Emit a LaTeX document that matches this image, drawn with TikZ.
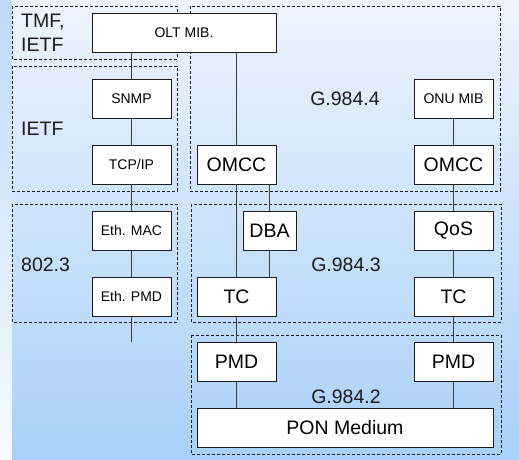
\documentclass[tikz,border=0pt]{standalone}
\usepackage{fontspec}
\setmainfont{Liberation Sans}
\usetikzlibrary{positioning,backgrounds}
\definecolor{gpInk}{HTML}{1C1C1C}
\definecolor{gpWire}{HTML}{3C3C3C}
\definecolor{gpTop}{HTML}{EEF4FD}
\definecolor{gpBot}{HTML}{A8D0F8}
\definecolor{gpEdgeTop}{HTML}{BCDAF7}
\definecolor{gpEdgeBot}{HTML}{F8FBFF}
\tikzset{
  layer/.style   ={draw=gpInk,line width=0.8pt,fill=white,inner sep=1pt,
                   minimum width=79pt,minimum height=39pt,
                   font=\fontsize{19.5}{24}\selectfont},
  mgmt/.style    ={layer,font=\fontsize{14}{17}\selectfont},
  grp/.style     ={draw=gpInk,line width=0.8pt,dash pattern=on 3pt off 2pt},
  wire/.style    ={gpWire,line width=0.9pt},
  stdlbl/.style  ={font=\fontsize{19.5}{24}\selectfont,text=gpInk,inner sep=0pt},
}
\begin{document}
\begin{tikzpicture}[x=1pt,y=-1pt]
\useasboundingbox (0,0) rectangle (519,460);
% background
\shade[top color=gpEdgeTop,bottom color=gpEdgeBot] (0,0) rectangle (12,460);
\shade[top color=gpTop,bottom color=gpBot] (12,0) rectangle (519,460);

% standard groups
\draw[grp] (12,6) rectangle (177,59);
\draw[grp] (12,66) rectangle (177,191);
\draw[grp] (12,204) rectangle (177,322);
\draw[grp] (190,6) rectangle (500,191);
\draw[grp] (191,204) rectangle (501,322);
\draw[grp] (191,335) rectangle (501,454);

\node[stdlbl,anchor=west,align=left] (tmf) at (21,33) {TMF,\\IETF};
\node[stdlbl,anchor=west] (ietf) at (21,129) {IETF};
\node[stdlbl,anchor=west] (ieee) at (21,265) {802.3};
\node[stdlbl] (g4) at (345,99) {G.984.4};
\node[stdlbl] (g3) at (346,265) {G.984.3};
\node[stdlbl] (g2) at (346,397) {G.984.2};

% management / ethernet stack
\node[mgmt,minimum width=184pt] (olt) at (184,32.5) {OLT MIB.};
\node[mgmt] (snmp)   at (131.5,98.5)  {SNMP};
\node[mgmt] (tcpip)  at (131.5,164.5) {TCP/IP};
\node[mgmt] (ethmac) at (131.5,230.5) {Eth. MAC};
\node[mgmt] (ethpmd) at (131.5,296.5) {Eth. PMD};
\coordinate (ethend) at (131.5,342);

% OLT side
\node[layer] (omccL) at (236.5,164.5) {OMCC};
\node[layer,minimum width=53pt] (dba) at (269.5,230.5) {DBA};
\node[layer] (tcL)   at (236.5,296.5) {TC};
\node[layer] (pmdL)  at (236.5,362)   {PMD};

% ONU side
\node[mgmt]  (onumib) at (453.5,98.5)  {ONU MIB};
\node[layer] (omccR)  at (453.5,164.5) {OMCC};
\node[layer] (qos)    at (453.5,230.5) {QoS};
\node[layer] (tcR)    at (453.5,296.5) {TC};
\node[layer] (pmdR)   at (453.5,362)   {PMD};

\node[layer,minimum width=296pt] (pon) at (345,427.5) {PON Medium};

% wires
\draw[wire] (olt.south -| snmp) -- (snmp);
\foreach \a/\b in {snmp/tcpip, tcpip/ethmac, ethmac/ethpmd, omccL/tcL, tcL/pmdL,
                   onumib/omccR, omccR/qos, qos/tcR, tcR/pmdR}
  \draw[wire] (\a.south) -- (\b.north);
\draw[wire] (ethpmd.south) -- (ethend);
\draw[wire] (olt.south -| omccL) -- (omccL.north);
\draw[wire] (omccL.south -| dba) -- (dba.north);
\draw[wire] (dba.south) -- (dba.south |- tcL.north);
\draw[wire] (pmdL.south) -- (pmdL.south |- pon.north);
\draw[wire] (pmdR.south) -- (pmdR.south |- pon.north);
\end{tikzpicture}
\end{document}
